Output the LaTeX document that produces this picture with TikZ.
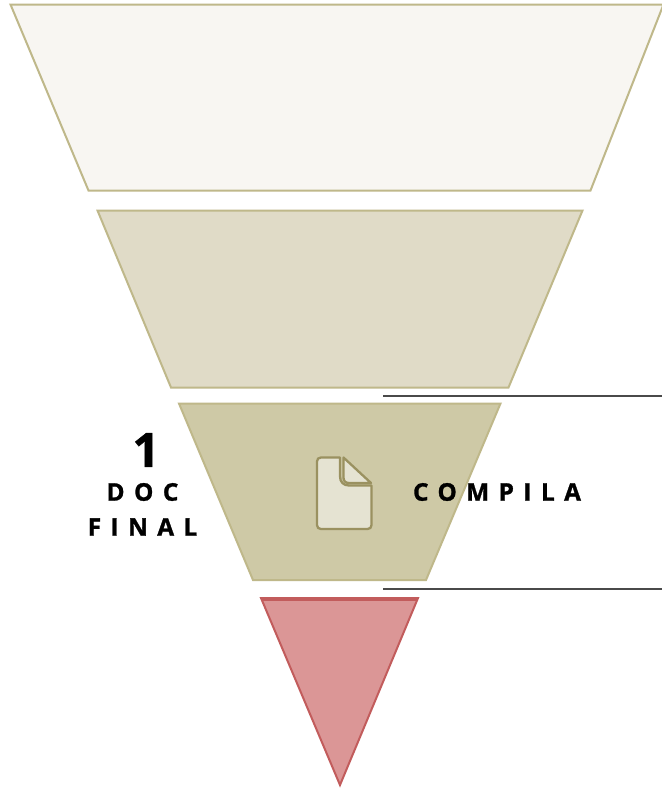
\documentclass[tikz,border=0pt]{standalone}
\usepackage{fontspec}
\setmainfont{Open Sans}
\newfontfamily\spaced[LetterSpace=39,BoldFeatures={FakeBold=1.2}]{Open Sans}
\newfontfamily\heavy[BoldFeatures={FakeBold=1.2}]{Open Sans}
\definecolor{edgeA}{HTML}{BFB88A}
\definecolor{fillA}{HTML}{F8F6F2}
\definecolor{fillB}{HTML}{E0DBC7}
\definecolor{fillC}{HTML}{CEC9A6}
\definecolor{fillR}{HTML}{DB9696}
\definecolor{edgeR}{HTML}{C25C5C}
\definecolor{iconE}{HTML}{9A9160}
\definecolor{iconF}{HTML}{E5E3D2}
\definecolor{ruleC}{HTML}{4A4A4A}
\tikzset{
  band/.style={draw=edgeA,line width=2pt,line join=miter},
  rulel/.style={draw=ruleC,line width=2pt},
  lab/.style={font=\spaced\bfseries\fontsize{24.3}{24.3}\selectfont,text=black,inner sep=0pt,anchor=center},
  doc/.style={draw=iconE,line width=2.3pt,fill=iconF,line join=round}
}
\begin{document}
\begin{tikzpicture}[x=1pt,y=-1pt]
\useasboundingbox (0,0) rectangle (662,788);
\fill[white] (0,0) rectangle (662,788);
\draw[band,fill=fillA] (10.5,4.5) -- (663.5,4.5) -- (590.5,190.5) -- (88.5,190.5) -- cycle;
\draw[band,fill=fillB] (97.5,210.5) -- (582.5,210.5) -- (508.5,387.5) -- (171,387.5) -- cycle;
\draw[band,fill=fillC] (179,403.5) -- (500.5,403.5) -- (426,580) -- (253,580) -- cycle;
\draw[draw=edgeR,line width=2pt,fill=fillR,line join=miter] (261,598) -- (418,598) -- (340,785) -- cycle;
\draw[draw=edgeR,line width=1.6pt] (262,600) -- (417,600);
\coordinate (r1a) at (383,395.5);
\coordinate (r1b) at (662,395.5);
\coordinate (r2a) at (383,588.5);
\coordinate (r2b) at (662,588.5);
\draw[rulel] (r1a) -- (r1b);
\draw[rulel] (r2a) -- (r2b);
% document icon
\draw[doc] (340,457.5) -- (321,457.5) .. controls (318.5,457.5) and (317,459) .. (317,461.5) -- (317,525) .. controls (317,527.5) and (318.5,529) .. (321,529) -- (367.5,529) .. controls (370,529) and (371.5,527.5) .. (371.5,525) -- (371.5,485.5) -- (349,485.5) .. controls (343.5,485.5) and (340,482) .. (340,476.5) -- cycle;
\draw[doc] (343.5,457.5) -- (371,483) -- (349,483) .. controls (345.5,483) and (343.5,481) .. (343.5,477.5) -- cycle;
% labels
\node[font=\heavy\bfseries\fontsize{47}{47}\selectfont,text=black,inner sep=0pt] (num) at (146,450) {1};
\node[lab] (doc1) at (142.5,492) {DOC};
\node[lab] (fin) at (142.5,527) {FINAL};
\node[lab] (com) at (497,492) {COMPILA};
\end{tikzpicture}
\end{document}
